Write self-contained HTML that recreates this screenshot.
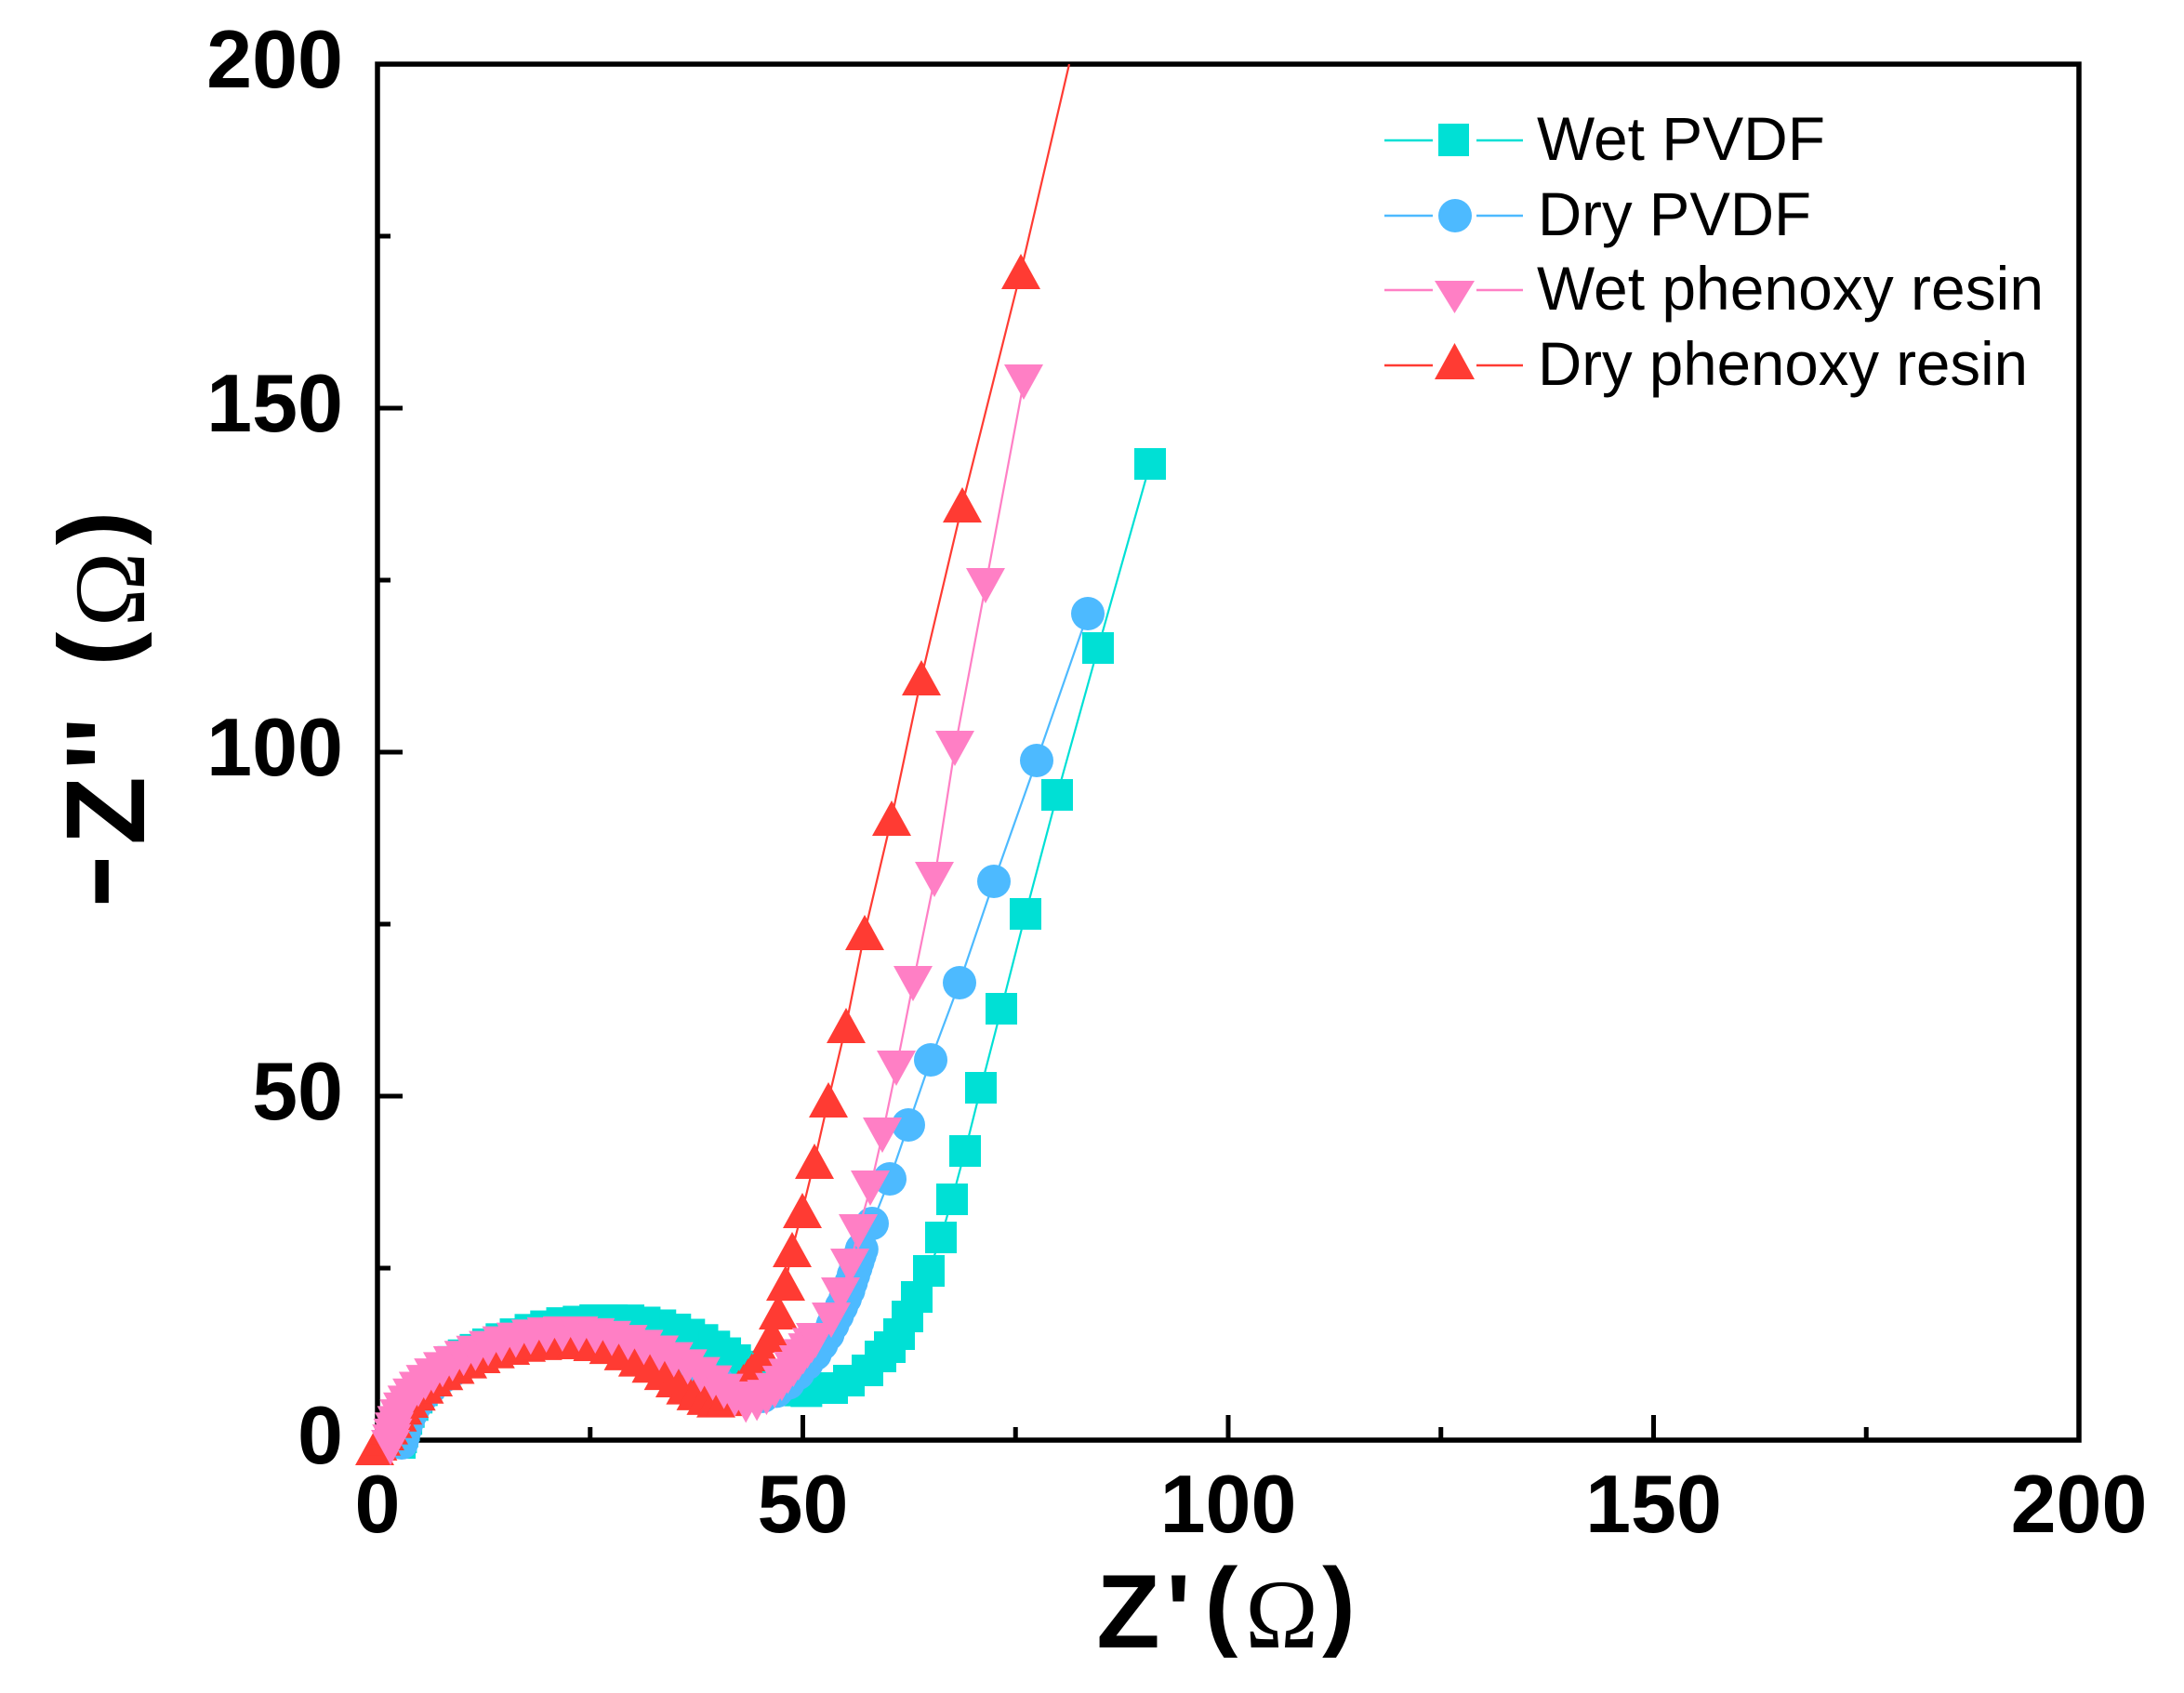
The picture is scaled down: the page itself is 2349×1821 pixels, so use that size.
<!DOCTYPE html>
<html><head><meta charset="utf-8">
<style>html,body{margin:0;padding:0;background:#fff}svg{display:block}</style>
</head>
<body>
<svg id="s" xmlns="http://www.w3.org/2000/svg" width="2349" height="1821" viewBox="0 0 2349 1821">
<rect width="2349" height="1821" fill="#fff"/>
<!-- frame -->
<rect x="406" y="69" width="1830" height="1480" fill="none" stroke="#000" stroke-width="5.5"/>
<g stroke="#000" stroke-width="5" fill="none">
<path d="M406 1549H433M406 1364H420M406 1179H433M406 994H420M406 809H433M406 624H420M406 439H433M406 254H420M406 69H433"/>
<path d="M406 1549V1522M634.75 1549V1535M863.5 1549V1522M1092.25 1549V1535M1321 1549V1522M1549.75 1549V1535M1778.5 1549V1522M2007.25 1549V1535M2236 1549V1522"/>
</g>
<g font-family="'Liberation Sans', Arial, sans-serif" font-weight="bold" font-size="88" fill="#000">
<text x="369" y="1574" text-anchor="end">0</text>
<text x="369" y="1204" text-anchor="end">50</text>
<text x="369" y="834" text-anchor="end">100</text>
<text x="369" y="464" text-anchor="end">150</text>
<text x="369" y="94" text-anchor="end">200</text>
<text x="406" y="1648" text-anchor="middle">0</text>
<text x="863.5" y="1648" text-anchor="middle">50</text>
<text x="1321" y="1648" text-anchor="middle">100</text>
<text x="1778.5" y="1648" text-anchor="middle">150</text>
<text x="2236" y="1648" text-anchor="middle">200</text>
</g>
<!-- x title -->
<g fill="#000" text-anchor="middle">
<text x="1213.5" y="1772" font-family="'Liberation Sans', Arial, sans-serif" font-weight="bold" font-size="112">Z</text>
<text x="1267.5" y="1772" font-family="'Liberation Sans', Arial, sans-serif" font-weight="bold" font-size="112">'</text>
<text x="1313.5" y="1761" font-family="'Liberation Sans', Arial, sans-serif" font-weight="bold" font-size="107">(</text>
<text x="1378.5" y="1772" font-family="'Liberation Serif', 'Times New Roman', serif" font-size="106">Ω</text>
<text x="1440" y="1761" font-family="'Liberation Sans', Arial, sans-serif" font-weight="bold" font-size="107">)</text>
</g>
<!-- y title -->
<g fill="#000" text-anchor="middle">
<text transform="translate(141,948) rotate(-90) scale(1.5,1)" font-family="'Liberation Sans', Arial, sans-serif" font-weight="bold" font-size="121">-</text>
<text transform="translate(155,872) rotate(-90)" font-family="'Liberation Sans', Arial, sans-serif" font-weight="bold" font-size="121">Z</text>
<text transform="translate(155,800) rotate(-90)" font-family="'Liberation Sans', Arial, sans-serif" font-weight="bold" font-size="121">''</text>
<text transform="translate(140,698) rotate(-90)" font-family="'Liberation Sans', Arial, sans-serif" font-weight="bold" font-size="110">(</text>
<text transform="translate(155,634) rotate(-90)" font-family="'Liberation Serif', 'Times New Roman', serif" font-size="109">Ω</text>
<text transform="translate(140,568) rotate(-90)" font-family="'Liberation Sans', Arial, sans-serif" font-weight="bold" font-size="110">)</text>
</g>
<!-- legend -->
<g stroke-width="2.5">
<path d="M1489 151H1541M1588 151H1638" stroke="#00E0D5"/>
<path d="M1489 232H1541M1588 232H1638" stroke="#4DBAFF"/>
<path d="M1489 312H1541M1588 312H1638" stroke="#FF7FC5"/>
<path d="M1489 393H1541M1588 393H1638" stroke="#FF3B33"/>
</g>
<rect x="1547" y="133" width="33" height="35" fill="#00E0D5"/>
<circle cx="1565" cy="232" r="18" fill="#4DBAFF"/>
<polygon points="1543,302 1586,302 1564.5,337" fill="#FF7FC5"/>
<polygon points="1564.5,369 1543,408 1586,408" fill="#FF3B33"/>
<g font-family="'Liberation Sans', Arial, sans-serif" font-size="66" fill="#000">
<text x="1653" y="172" textLength="310" lengthAdjust="spacingAndGlyphs">Wet PVDF</text>
<text x="1654" y="253" textLength="294" lengthAdjust="spacingAndGlyphs">Dry PVDF</text>
<text x="1653" y="333" textLength="545" lengthAdjust="spacingAndGlyphs">Wet phenoxy resin</text>
<text x="1654" y="414" textLength="527" lengthAdjust="spacingAndGlyphs">Dry phenoxy resin</text>
</g>
<g id="data"></g>
</svg>
<script>
(function(){
var NS="http://www.w3.org/2000/svg";
var g=document.getElementById('data');
function el(tag,a){var e=document.createElementNS(NS,tag);for(var k in a)e.setAttribute(k,a[k]);g.appendChild(e);return e;}
function resample(p){
  var L=[0],i;
  for(i=1;i<p.length;i++)L.push(L[i-1]+Math.hypot(p[i][0]-p[i-1][0],p[i][1]-p[i-1][1]));
  var T=L[L.length-1],out=[],s=0;
  while(s<=T){
    i=1;while(i<L.length-1&&L[i]<s)i++;
    var f=(s-L[i-1])/((L[i]-L[i-1])||1);
    out.push([p[i-1][0]+f*(p[i][0]-p[i-1][0]),p[i-1][1]+f*(p[i][1]-p[i-1][1])]);
    var t=s/T;s+=6+12*Math.sin(Math.PI*Math.min(t,1));
  }
  return out;
}
var series=[
 {c:"#00E0D5",m:"sq",
  arc:[[430,1552],[434,1535],[440,1518],[450,1500],[462,1485],[478,1471],[498,1458],[522,1447],[548,1437],[575,1429],[605,1423],[640,1420],[675,1420],[705,1424],[730,1431],[755,1441],[775,1452],[795,1466],[815,1479],[835,1489],[855,1495],[873,1497]],
  tail:[[895,1493],[913,1485],[933,1474],[947,1459],[957,1449],[967,1435],[976,1416],[986,1395],[999,1367],[1012,1331],[1024,1290],[1038,1238],[1055,1170],[1077,1085],[1103,983],[1137,855],[1181,697],[1237,499]]},
 {c:"#4DBAFF",m:"ci",
  arc:[[432,1552],[437,1532],[445,1514],[457,1498],[473,1483],[493,1470],[517,1459],[545,1450],[575,1443],[605,1440],[635,1440],[662,1443],[690,1450],[715,1459],[740,1470],[762,1482],[782,1493],[800,1500],[822,1502],[836,1496],[850,1486],[863,1472],[877,1456],[890,1436],[902,1412],[912,1390],[920,1365],[928,1340]],
  tail:[[938,1316],[957,1268],[977,1210],[1001,1140],[1032,1057],[1069,948],[1115,818],[1170,660]]},
 {c:"#FF3B33",m:"up",
  arc:[[403,1557],[414,1541],[424,1525],[436,1510],[450,1496],[466,1483],[486,1471],[509,1461],[535,1452],[563,1446],[593,1443],[623,1443],[652,1447],[678,1458],[700,1468],[720,1480],[738,1492],[754,1501],[768,1506],[781,1504],[793,1494],[803,1482],[812,1470]],
  tail:[[821,1456],[830,1436],[837,1411],[845,1380],[852,1344],[863,1302],[876,1249],[891,1183],[910,1103],[930,1003],[959,880],[991,729],[1035,543],[1098,292]],
  ext:[1150,69]},
 {c:"#FF7FC5",m:"dn",
  arc:[[420,1557],[424,1538],[431,1520],[441,1504],[454,1490],[470,1477],[490,1465],[513,1455],[538,1446],[565,1439],[595,1435],[625,1435],[655,1439],[683,1446],[708,1455],[730,1465],[750,1476],[770,1490],[787,1503],[805,1513],[818,1508],[830,1499],[842,1487],[855,1471],[867,1455],[880,1438]],
  tail:[[894,1420],[904,1393],[914,1362],[923,1325],[936,1278],[949,1221],[964,1149],[982,1058],[1005,946],[1027,805],[1060,630],[1101,411]]}
];
series.forEach(function(S){
  var pts=resample(S.arc).concat(S.tail);
  var lp=pts.slice();if(S.ext)lp.push(S.ext);
  el('polyline',{points:lp.map(function(p){return p[0].toFixed(1)+','+p[1].toFixed(1);}).join(' '),fill:'none',stroke:S.c,'stroke-width':'2.2'});
  pts.forEach(function(p){
    var x=p[0],y=p[1];
    if(S.m==='sq')el('rect',{x:x-17,y:y-17,width:34,height:34,fill:S.c});
    else if(S.m==='ci')el('circle',{cx:x,cy:y,r:18,fill:S.c});
    else if(S.m==='up')el('polygon',{points:x+','+(y-19)+' '+(x-21)+','+(y+19)+' '+(x+21)+','+(y+19),fill:S.c});
    else el('polygon',{points:(x-21)+','+(y-19)+' '+(x+21)+','+(y-19)+' '+x+','+(y+19),fill:S.c});
  });
});
})();
</script>
</body>
</html>
